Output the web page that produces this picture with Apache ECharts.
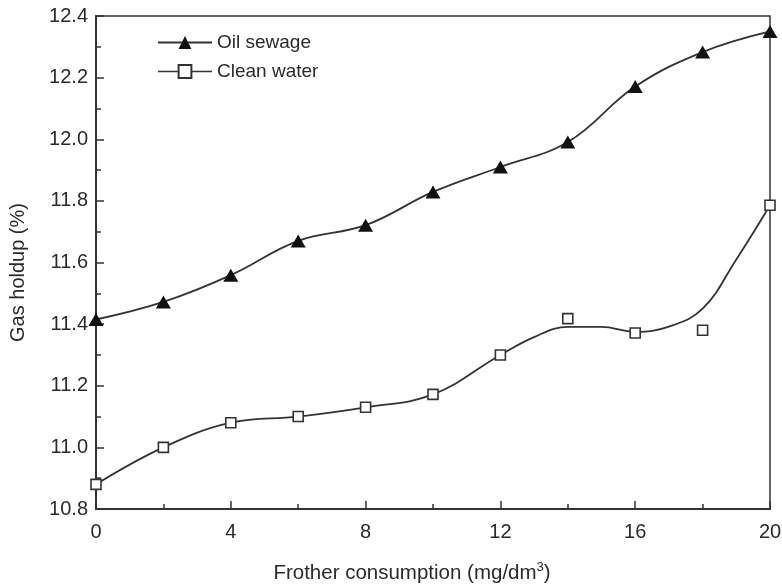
<!DOCTYPE html>
<html>
<head>
<meta charset="utf-8">
<script src="https://cdn.jsdelivr.net/npm/echarts@6/dist/echarts.min.js"></script>
<style>html,body{margin:0;padding:0;background:#fff}#c{width:782px;height:587px}</style>
</head>
<body>
<div id="c"></div>
<script>
// Frother consumption (mg/dm3)
const xValues = [0, 2, 4, 6, 8, 10, 12, 14, 16, 18, 20];
// Gas holdup (%) measured
const oilSewage = [11.415, 11.472, 11.559, 11.67, 11.721, 11.829, 11.91, 11.991, 12.171, 12.283, 12.35];
const cleanWater = [10.88, 11.0, 11.08, 11.10, 11.13, 11.172, 11.30, 11.418, 11.371, 11.38, 11.786];
// fitted curve for clean water
const cleanFitX = [0, 2, 4, 6, 8, 10, 12, 13, 14, 15, 16, 17, 18, 19, 20];
const cleanFitY = [10.88, 11.0, 11.08, 11.10, 11.13, 11.172, 11.30, 11.358, 11.391, 11.391, 11.375, 11.392, 11.45, 11.61, 11.786];

const pair = (xs, ys) => xs.map((x, i) => [x, ys[i]]);
const FONT = 'Liberation Sans';
const TXT = '#2a2a2a';
const chart = echarts.init(document.getElementById('c'));
chart.setOption({
  animation: false,
  backgroundColor: '#fff',
  grid: { left: 96, right: 12, top: 16, bottom: 78, outerBoundsMode: 'none', containLabel: false, show: true, borderColor: '#333', borderWidth: 1.5, backgroundColor: 'transparent' },
  legend: {
    orient: 'vertical', left: 157, top: 33, padding: 0, itemWidth: 54, itemHeight: 16, itemGap: 10,
    textStyle: { fontFamily: FONT, fontSize: 19, color: TXT },
    data: [
      { name: 'Oil sewage' },
      { name: 'Clean water', lineStyle: { opacity: 1, width: 1.5, color: '#333' } }
    ]
  },
  xAxis: {
    type: 'value', min: 0, max: 20, interval: 4,
    name: '{a|Frother consumption (mg/dm}{s|3}{a|)}', nameLocation: 'middle', nameGap: 52,
    nameTextStyle: { padding: [0, 42, 0, 0], rich: {
      a: { fontFamily: FONT, fontSize: 20.5, color: TXT, lineHeight: 24 },
      s: { fontFamily: FONT, fontSize: 13, color: TXT, lineHeight: 13, verticalAlign: 'top' } } },
    axisLine: { lineStyle: { color: '#333', width: 2 } },
    axisTick: { inside: true, length: 8, lineStyle: { color: '#333', width: 1.5 } },
    minorTick: { show: true, splitNumber: 2, length: 5, lineStyle: { color: '#333', width: 1.5 } },
    splitLine: { show: false },
    axisLabel: { fontFamily: FONT, fontSize: 20, color: TXT, margin: 13 }
  },
  yAxis: {
    type: 'value', min: 10.8, max: 12.4, interval: 0.2,
    name: 'Gas holdup (%)', nameLocation: 'middle', nameGap: 68,
    nameTextStyle: { fontFamily: FONT, fontSize: 20, color: TXT, padding: [0, 20, 0, 0] },
    axisLine: { show: true, lineStyle: { color: '#333', width: 2 } },
    axisTick: { show: true, inside: true, length: 8, lineStyle: { color: '#333', width: 1.5 } },
    minorTick: { show: true, splitNumber: 2, length: 5, lineStyle: { color: '#333', width: 1.5 } },
    splitLine: { show: false },
    axisLabel: { fontFamily: FONT, fontSize: 20, color: TXT, margin: 8, formatter: v => v.toFixed(1) }
  },
  series: [
    {
      name: 'Oil sewage', type: 'line', smooth: 0.4, clip: false, z: 3,
      data: pair(xValues, oilSewage),
      symbol: 'triangle', symbolSize: [15, 13],
      itemStyle: { color: '#111' },
      lineStyle: { color: '#333', width: 1.8 }
    },
    {
      name: 'Clean water fit', type: 'line', smooth: 0.4, clip: false, z: 2,
      data: pair(cleanFitX, cleanFitY),
      symbol: 'none', lineStyle: { color: '#333', width: 1.8 }
    },
    {
      name: 'Clean water', type: 'line', clip: false, z: 4,
      data: pair(xValues, cleanWater),
      symbol: 'rect', symbolSize: 10,
      itemStyle: { color: '#fff', borderColor: '#333', borderWidth: 1.6 },
      lineStyle: { opacity: 0, color: '#333', width: 1.5 }
    }
  ]
});
</script>
</body>
</html>
